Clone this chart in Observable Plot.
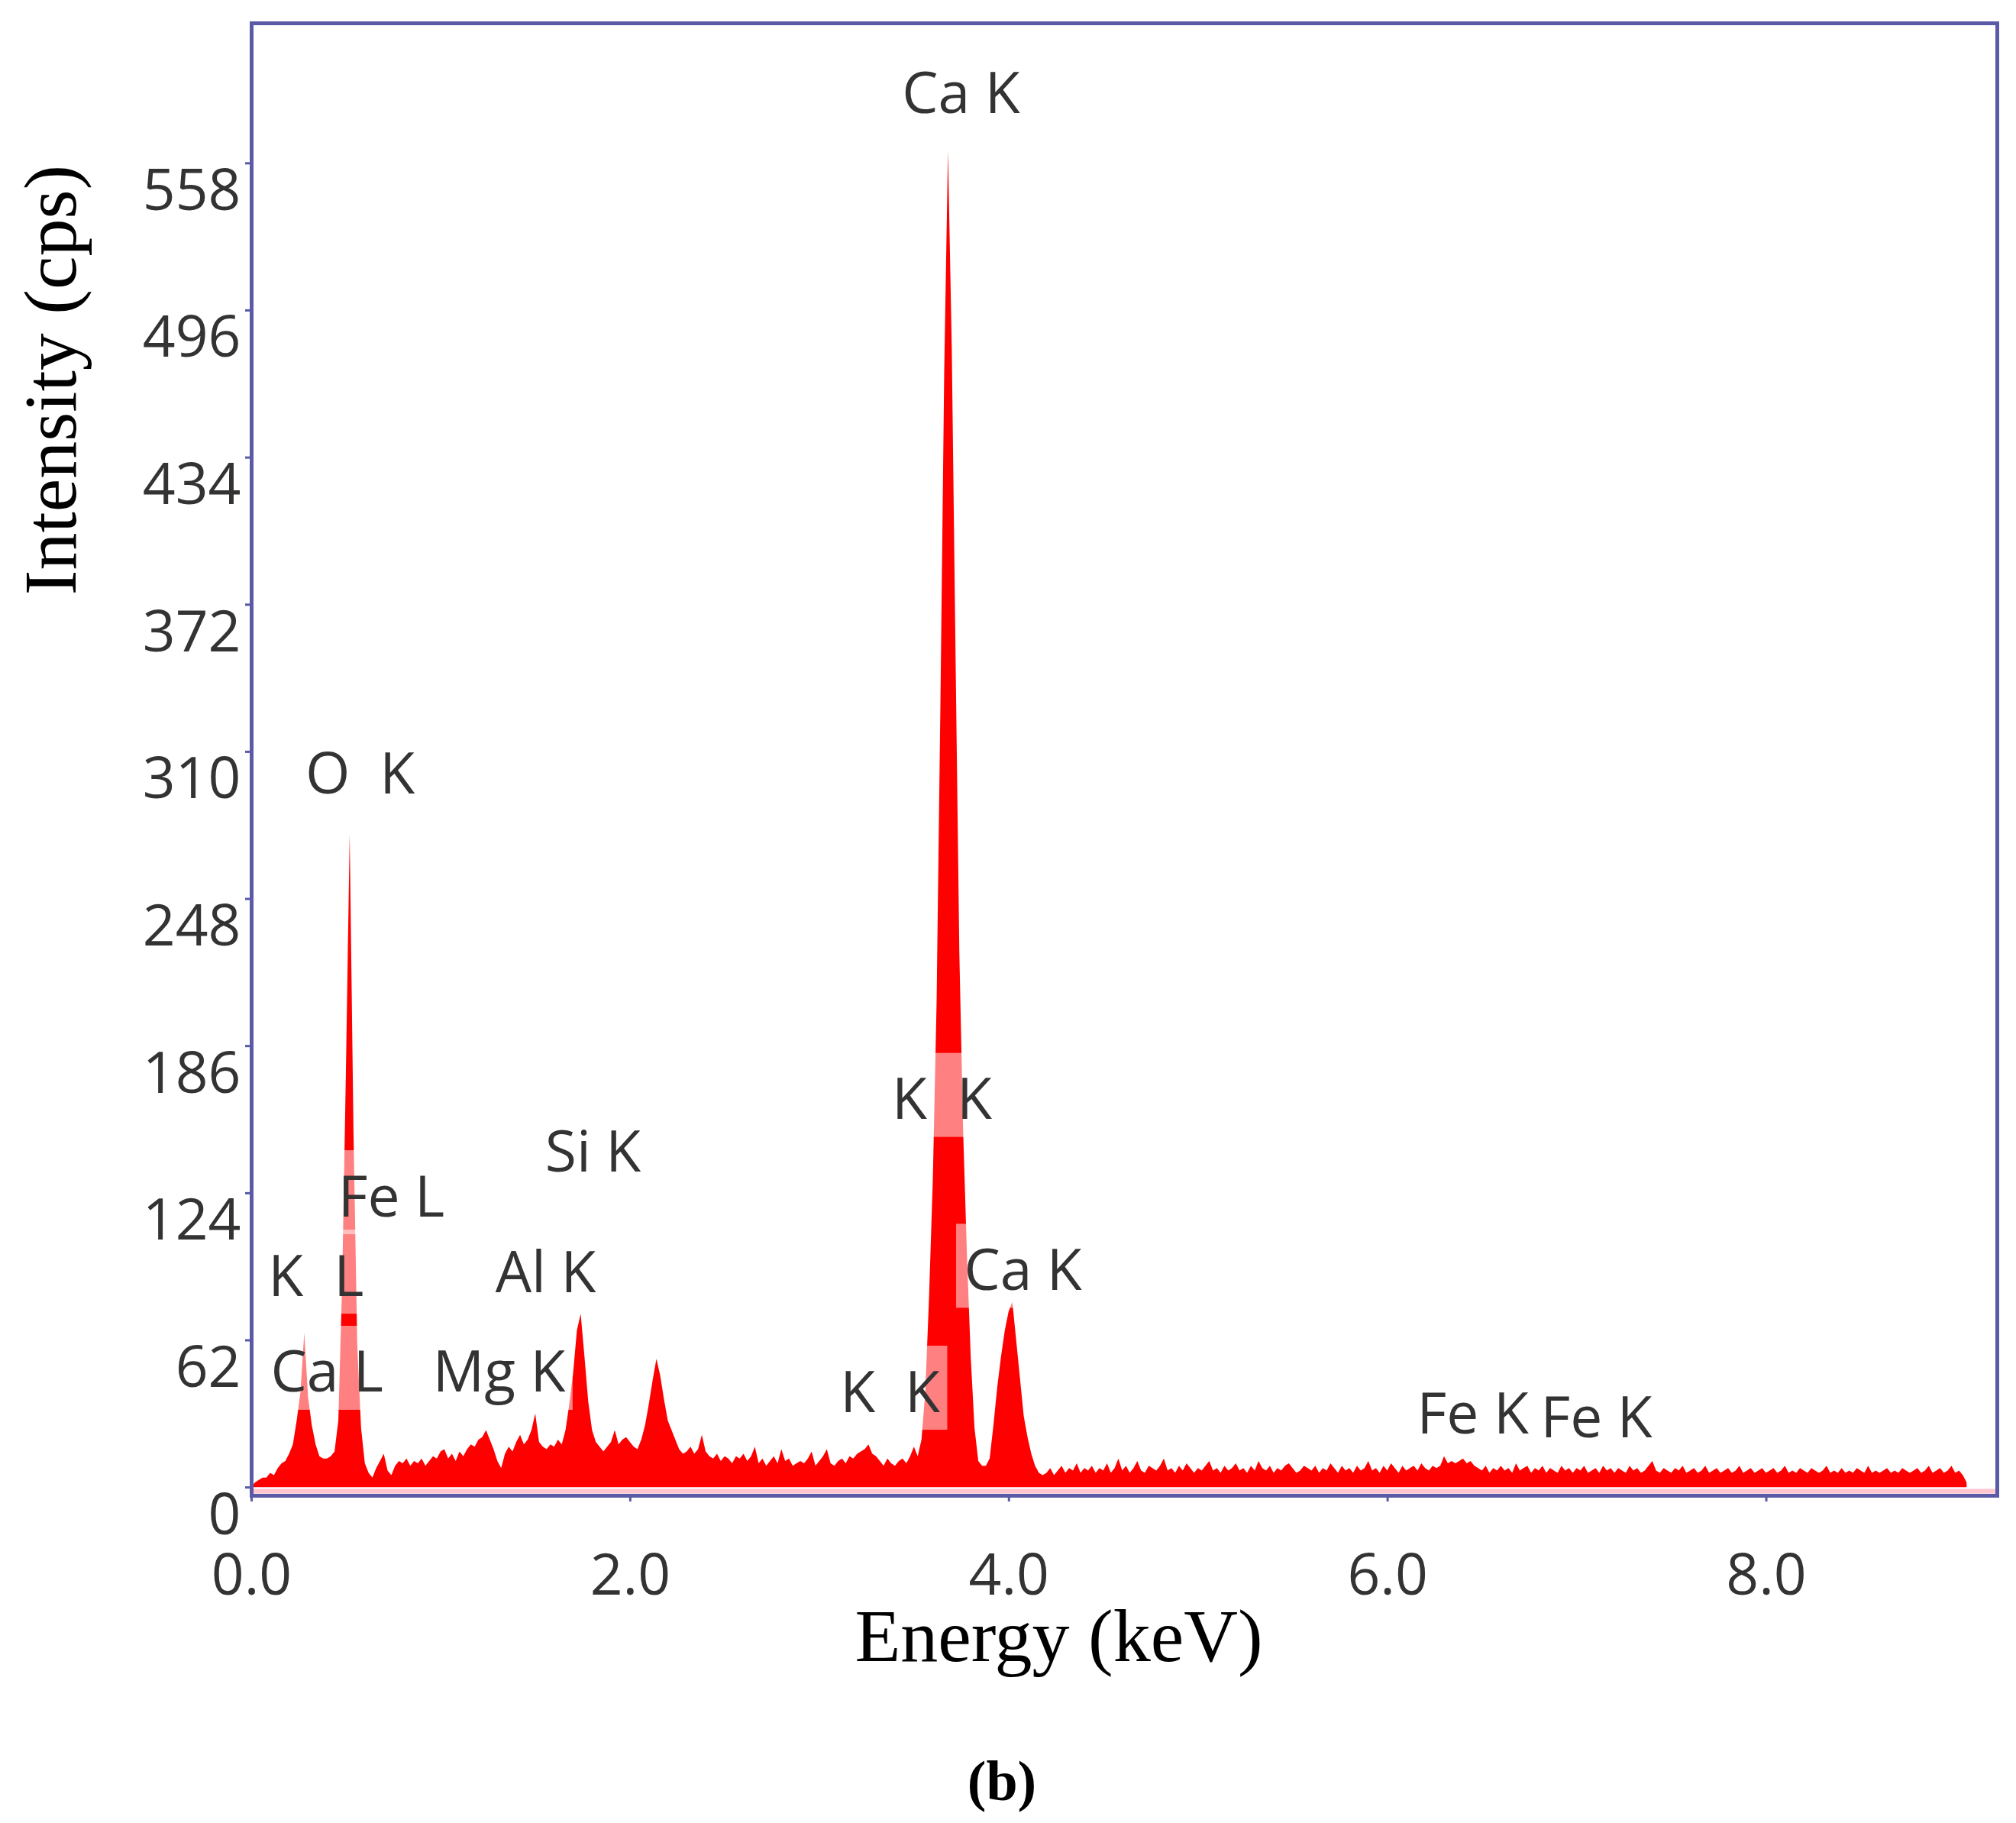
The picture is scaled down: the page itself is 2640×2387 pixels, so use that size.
<!DOCTYPE html>
<html><head><meta charset="utf-8">
<script src="https://cdn.jsdelivr.net/npm/d3@7"></script>
<script src="https://cdn.jsdelivr.net/npm/@observablehq/plot@0.6"></script>
<style>
html,body{margin:0;padding:0;background:#fff;}
#wrap{position:relative;width:2640px;height:2387px;}
#cap{position:absolute;left:0;top:2290px;width:2624px;text-align:center;font:bold 74px "Liberation Serif",serif;line-height:84px;color:#000;}
</style></head>
<body><div id="wrap"><div id="chart"></div><div id="cap">(b)</div></div>
<script>
// Energy channels (keV) and counts (cps)
const energyStart = 0.0;
const energyStep = 0.02;
const counts = [
  0, 2, 3, 4, 4, 6, 5, 8, 10, 11,
  14, 18, 28, 40, 65, 38, 26, 18, 13, 12,
  12, 13, 15, 28, 85, 175, 275, 150, 60, 25,
  10, 6, 4, 8, 11, 14, 7, 5, 9, 11,
  10, 12, 9, 11, 10, 12, 9, 11, 13, 12,
  15, 16, 12, 14, 11, 15, 13, 16, 18, 17,
  20, 21, 24, 20, 16, 11, 8, 14, 17, 15,
  19, 22, 18, 20, 24, 31, 19, 17, 16, 18,
  17, 20, 18, 24, 35, 48, 66, 73, 55, 36,
  24, 19, 17, 15, 17, 19, 24, 18, 20, 21,
  19, 17, 16, 20, 26, 35, 45, 54, 47, 37,
  28, 24, 20, 16, 14, 15, 17, 14, 16, 22,
  15, 13, 12, 14, 11, 13, 12, 10, 13, 12,
  14, 11, 13, 17, 10, 12, 9, 11, 13, 10,
  16, 11, 12, 9, 10, 11, 10, 12, 15, 9,
  11, 13, 16, 10, 9, 11, 12, 10, 13, 12,
  14, 15, 16, 18, 14, 13, 11, 9, 12, 10,
  9, 11, 12, 10, 13, 17, 13, 20, 40, 80,
  130, 205, 330, 470, 563, 480, 350, 225, 150, 98,
  55, 25, 11, 9, 9, 12, 26, 42, 55, 66,
  74, 78, 62, 46, 30, 21, 14, 9, 6, 5,
  6, 8, 5, 7, 9, 6, 8, 7, 10, 6,
  8, 7, 9, 6, 8, 7, 10, 6, 8, 12,
  7, 9, 6, 8, 11, 7, 6, 9, 8, 7,
  9, 12, 7, 8, 6, 9, 7, 10, 8, 6,
  8, 7, 9, 11, 7, 8, 6, 9, 7, 8,
  10, 7, 8, 6, 9, 7, 11, 8, 7, 9,
  6, 8, 7, 9, 10, 8, 6, 7, 9, 8,
  7, 9, 6, 8, 7, 10, 8, 6, 9, 7,
  8, 6, 9, 7, 8, 11, 7, 8, 6, 9,
  7, 10, 8, 6, 9, 7, 8, 9, 7, 10,
  8, 7, 9, 8, 9, 13, 10, 11, 10, 11,
  12, 10, 11, 9, 8, 7, 9, 6, 8, 7,
  9, 7, 8, 6, 10, 7, 8, 9, 6, 8,
  7, 9, 6, 8, 7, 6, 9, 7, 8, 6,
  8, 7, 9, 6, 7, 8, 6, 9, 7, 8,
  6, 8, 7, 6, 9, 7, 8, 6, 7, 9,
  11, 7, 6, 8, 7, 6, 8, 7, 9, 6,
  7, 8, 6, 7, 9, 6, 7, 8, 6, 7,
  8, 6, 7, 9, 6, 7, 8, 6, 7, 8,
  6, 7, 8, 6, 7, 9, 6, 7, 6, 8,
  7, 6, 8, 7, 6, 7, 9, 6, 7, 6,
  8, 6, 7, 6, 8, 7, 6, 9, 6, 7,
  6, 7, 8, 6, 7, 6, 8, 7, 6, 7,
  8, 6, 7, 9, 6, 7, 8, 6, 7, 9,
  6, 7, 5, 2
];

// Peak labels
const labelText = ["Ca K", "O\u00a0\u00a0K", "Fe L", "Si K", "K", "L", "Al K", "Ca L", "Mg K", "K\u00a0\u00a0K", "Ca K", "K\u00a0\u00a0K", "Fe K", "Fe K"];
const labelEnergy = [3.747, 0.573, 0.738, 1.803, 0.18, 0.514, 1.553, 0.398, 1.307, 3.646, 4.074, 3.372, 6.450, 7.103];
const labelCps = [587, 300, 122, 141, 88.5, 88.5, 90, 48, 48, 163, 91, 39.6, 30.6, 29];

// Axis ticks
const xTicks = [0, 2, 4, 6, 8];
const yTicks = [0, 62, 124, 186, 248, 310, 372, 434, 496, 558];

const xTitle = "Energy (keV)";
const yTitle = "Intensity (cps)";

// Layout
const W = 2640, H = 2200;
const mL = 329, mR = 25, mT = 30, mB = 242;
const xDomain = [0, 9.22], yDomain = [-3.5, 617];
const frameColor = "#5a5aa6";
const labelFont = 75;

const spectrum = counts.map((c, i) => ({energy: +(energyStart + i * energyStep).toFixed(2), cps: c}));

const kx = (W - mL - mR) / (xDomain[1] - xDomain[0]);
const ky = (H - mT - mB) / (yDomain[1] - yDomain[0]);
const ctx = document.createElement("canvas").getContext("2d");
ctx.font = labelFont + 'px "Open Sans"';
const labels = labelText.map((t, i) => {
  const hw = (ctx.measureText(t).width / 2 + 10) / kx;
  return {text: t, x: labelEnergy[i], y: labelCps[i],
          x1: labelEnergy[i] - hw, x2: labelEnergy[i] + hw,
          y1: labelCps[i] - 48 / ky, y2: labelCps[i] + 62 / ky};
});

const chart = Plot.plot({
  width: W, height: H,
  marginLeft: mL, marginRight: mR, marginTop: mT, marginBottom: mB,
  x: {domain: xDomain, label: null},
  y: {domain: yDomain, label: null},
  style: {fontFamily: '"Open Sans", sans-serif', background: "#fff", overflow: "visible"},
  marks: [
    Plot.ruleY([0], {stroke: "#ffc6d0", strokeWidth: 6, dy: 5}),
    Plot.areaY(spectrum, {x: "energy", y: "cps", fill: "#ff0000"}),
    Plot.rect(labels, {x1: "x1", x2: "x2", y1: "y1", y2: "y2", fill: "#fff", fillOpacity: 0.5}),
    Plot.text(labels, {x: "x", y: "y", text: "text", fontSize: labelFont, fill: "#333"}),
    Plot.axisX(xTicks, {tickSize: 8, tickFormat: () => "", stroke: frameColor, strokeWidth: 3, label: null}),
    Plot.axisX(xTicks, {tickSize: 0, tickPadding: 76, tickFormat: d3.format(".1f"), fontSize: labelFont, fill: "#333", label: null}),
    Plot.axisY(yTicks, {tickSize: 8, tickFormat: () => "", stroke: frameColor, strokeWidth: 3, label: null}),
    Plot.axisY(yTicks, {tickSize: 0, tickPadding: 14, dy: 37, fontSize: labelFont, fill: "#333", label: null}),
    Plot.text([xTitle], {text: d => d, frameAnchor: "bottom", textAnchor: "middle", lineAnchor: "middle", dx: -86, dy: 185, fontFamily: '"Liberation Serif", serif', fontSize: 98, fill: "#000"}),
    Plot.text([yTitle], {text: d => d, frameAnchor: "left", textAnchor: "middle", lineAnchor: "middle", rotate: -90, dx: -262, dy: -497, fontFamily: '"Liberation Serif", serif', fontSize: 98, fill: "#000"}),
    Plot.frame({stroke: frameColor, strokeWidth: 5})
  ]
});
document.getElementById("chart").appendChild(chart);
</script>
</body></html>
